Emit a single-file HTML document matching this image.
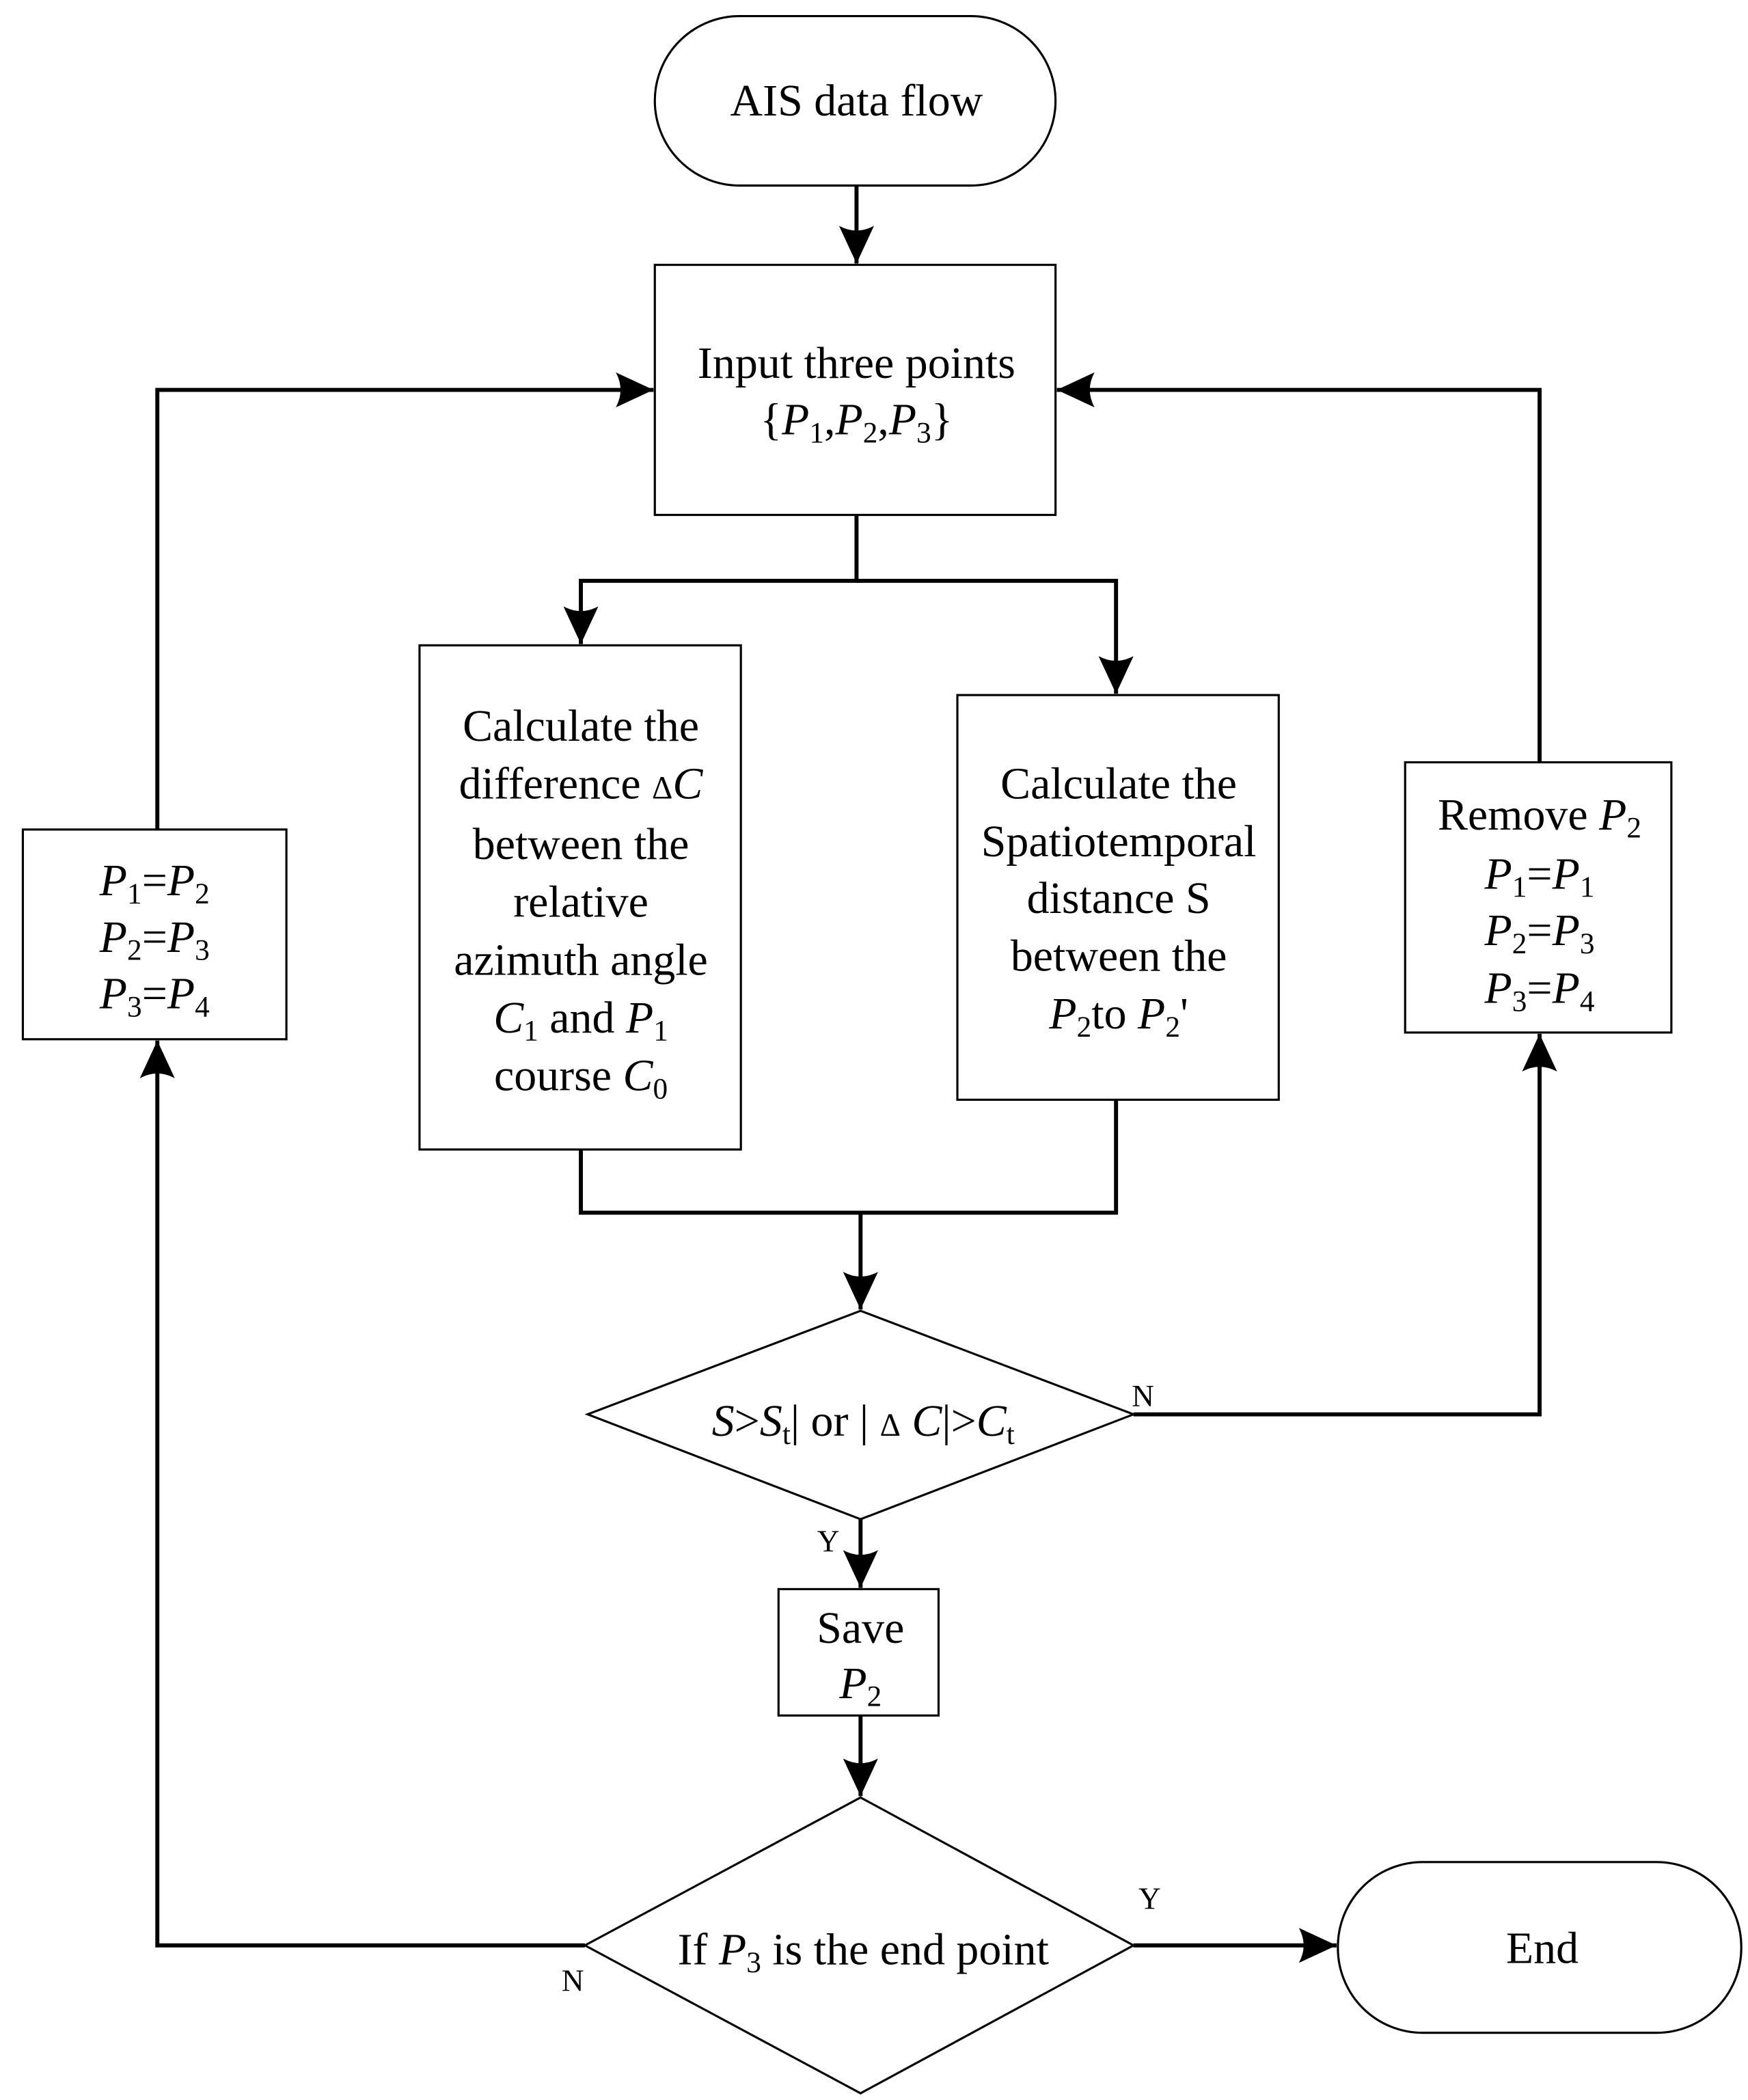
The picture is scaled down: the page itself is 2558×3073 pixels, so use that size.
<!DOCTYPE html>
<html><head><meta charset="utf-8">
<style>
html,body{margin:0;padding:0;background:#fff;}
svg{display:block;}
text{font-family:"Liberation Serif",serif;fill:#000;}
</style></head>
<body>
<svg width="2558" height="3073" viewBox="0 0 1300 1562" preserveAspectRatio="none" xmlns="http://www.w3.org/2000/svg">
<defs>
<marker id="ah" markerWidth="30" markerHeight="28" refX="28" refY="13" orient="auto" markerUnits="userSpaceOnUse">
<path d="M0,0 L28,13 L0,26 Q7,13 0,0 Z" fill="#000"/>
</marker>
</defs>
<g fill="none" stroke="#000" stroke-width="1.6">
<rect x="487" y="12" width="298" height="126" rx="63" ry="63"/>
<rect x="487" y="197" width="298" height="186"/>
<rect x="312" y="480" width="239" height="375"/>
<rect x="712" y="517" width="239" height="301"/>
<rect x="1045" y="567" width="198" height="201"/>
<rect x="17" y="617" width="196" height="156"/>
<rect x="579" y="1182" width="119" height="94"/>
<polygon points="640,975 843,1052 640,1130 437,1052"/>
<polygon points="640,1337 843,1447 640,1557 435,1447"/>
<rect x="995" y="1385" width="300" height="127" rx="63" ry="63"/>
</g>
<g fill="none" stroke="#000" stroke-width="3">
<line x1="637" y1="138" x2="637" y2="196" marker-end="url(#ah)"/>
<polyline points="637,383 637,432 432,432 432,479" marker-end="url(#ah)"/>
<polyline points="637,432 830,432 830,516" marker-end="url(#ah)"/>
<polyline points="432,855 432,902 830,902 830,818"/>
<line x1="640" y1="902" x2="640" y2="974" marker-end="url(#ah)"/>
<polyline points="843,1052 1145,1052 1145,769" marker-end="url(#ah)"/>
<polyline points="1145,567 1145,290 786,290" marker-end="url(#ah)"/>
<line x1="640" y1="1130" x2="640" y2="1181" marker-end="url(#ah)"/>
<line x1="640" y1="1276" x2="640" y2="1336" marker-end="url(#ah)"/>
<line x1="843" y1="1447" x2="994" y2="1447" marker-end="url(#ah)"/>
<polyline points="435,1447 117,1447 117,774" marker-end="url(#ah)"/>
<polyline points="117,617 117,290 486,290" marker-end="url(#ah)"/>
</g>
<g font-size="33.5" text-anchor="middle">
<text x="637" y="281">Input three points</text>
<text x="637" y="86">AIS data flow</text>
<text x="637" y="323">{<tspan font-style="italic">P</tspan><tspan font-size="22" dy="6">1</tspan><tspan dy="-6">,</tspan><tspan font-style="italic">P</tspan><tspan font-size="22" dy="6">2</tspan><tspan dy="-6">,</tspan><tspan font-style="italic">P</tspan><tspan font-size="22" dy="6">3</tspan><tspan dy="-6">}</tspan></text>

<text x="432" y="551">Calculate the</text>
<text x="432" y="594">difference  <tspan font-size="24">Δ</tspan><tspan font-style="italic">C</tspan></text>
<text x="432" y="639">between the</text>
<text x="432" y="682">relative</text>
<text x="432" y="725">azimuth angle</text>
<text x="432" y="768"><tspan font-style="italic">C</tspan><tspan font-size="22" dy="6">1</tspan><tspan dy="-6"> and </tspan><tspan font-style="italic">P</tspan><tspan font-size="22" dy="6">1</tspan></text>
<text x="432" y="811">course <tspan font-style="italic">C</tspan><tspan font-size="22" dy="6">0</tspan></text>

<text x="832" y="594">Calculate the</text>
<text x="832" y="637">Spatiotemporal</text>
<text x="832" y="679">distance S</text>
<text x="832" y="722">between  the</text>
<text x="832" y="765"><tspan font-style="italic">P</tspan><tspan font-size="22" dy="6">2</tspan><tspan dy="-6">to </tspan><tspan font-style="italic">P</tspan><tspan font-size="22" dy="6">2</tspan><tspan dy="-6">'</tspan></text>

<text x="1145" y="617">Remove <tspan font-style="italic">P</tspan><tspan font-size="22" dy="6">2</tspan></text>
<text x="1145" y="661"><tspan font-style="italic">P</tspan><tspan font-size="22" dy="6">1</tspan><tspan dy="-6">=</tspan><tspan font-style="italic">P</tspan><tspan font-size="22" dy="6">1</tspan></text>
<text x="1145" y="703"><tspan font-style="italic">P</tspan><tspan font-size="22" dy="6">2</tspan><tspan dy="-6">=</tspan><tspan font-style="italic">P</tspan><tspan font-size="22" dy="6">3</tspan></text>
<text x="1145" y="746"><tspan font-style="italic">P</tspan><tspan font-size="22" dy="6">3</tspan><tspan dy="-6">=</tspan><tspan font-style="italic">P</tspan><tspan font-size="22" dy="6">4</tspan></text>

<text x="115" y="666"><tspan font-style="italic">P</tspan><tspan font-size="22" dy="6">1</tspan><tspan dy="-6">=</tspan><tspan font-style="italic">P</tspan><tspan font-size="22" dy="6">2</tspan></text>
<text x="115" y="708"><tspan font-style="italic">P</tspan><tspan font-size="22" dy="6">2</tspan><tspan dy="-6">=</tspan><tspan font-style="italic">P</tspan><tspan font-size="22" dy="6">3</tspan></text>
<text x="115" y="750"><tspan font-style="italic">P</tspan><tspan font-size="22" dy="6">3</tspan><tspan dy="-6">=</tspan><tspan font-style="italic">P</tspan><tspan font-size="22" dy="6">4</tspan></text>

<text x="642" y="1068"><tspan font-style="italic">S</tspan>&gt;<tspan font-style="italic">S</tspan><tspan font-size="22" dy="6">t</tspan><tspan dy="-6">| or | </tspan><tspan font-size="24">Δ</tspan><tspan font-style="italic"> C</tspan>|&gt;<tspan font-style="italic">C</tspan><tspan font-size="22" dy="6">t</tspan></text>

<text x="640" y="1222">Save</text>
<text x="640" y="1263"><tspan font-style="italic">P</tspan><tspan font-size="22" dy="6">2</tspan></text>

<text x="642" y="1461">If <tspan font-style="italic">P</tspan><tspan font-size="22" dy="6">3</tspan><tspan dy="-6"> is the end point</tspan></text>
<text x="1147" y="1460">End</text>
</g>
<g font-size="23" text-anchor="middle">
<text x="850" y="1046">N</text>
<text x="616" y="1154">Y</text>
<text x="855" y="1420">Y</text>
<text x="426" y="1481">N</text>
</g>
</svg>
</body></html>
